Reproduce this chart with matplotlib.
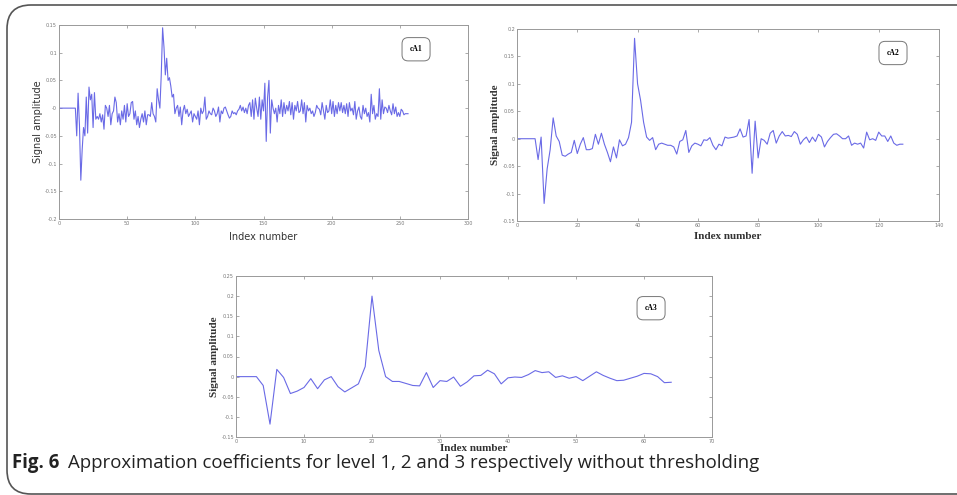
from matplotlib import pyplot as plt
from matplotlib.patches import FancyBboxPatch
from matplotlib.ticker import FormatStrFormatter
import numpy as np

# coeficientes de aproximacion leidos a ojo de la figura
cA1 = [0.0]*13 + [
    -0.05, 0.027, -0.03, -0.13, -0.075, -0.035, -0.05, 0.02, -0.045, 0.038,
    0.015, 0.025, -0.035, 0.028, -0.02, -0.015, -0.02, -0.01, -0.025, -0.012,
    -0.038, 0.005, 0.0, -0.015, 0.005, -0.03, -0.01, -0.005, 0.02, 0.01,
    -0.025, -0.01, -0.03, -0.005, -0.02, 0.005, -0.025, 0.008, -0.015, -0.01,
    0.01, 0.012, -0.02, -0.005, -0.03, -0.015, -0.035, -0.02, -0.01, -0.025,
    -0.005, -0.03, -0.012, -0.012, -0.015, 0.01, -0.01, -0.015, -0.025, 0.035,
    0.015, 0.0, 0.06, 0.145, 0.11, 0.06, 0.09, 0.05, 0.055, 0.04,
    0.02, 0.025, -0.01, 0.0, 0.005, -0.015, 0.002, -0.03, -0.005, 0.005,
    -0.01, -0.002, -0.015, -0.01, -0.005, -0.025, -0.01, -0.015, -0.02, -0.005,
    -0.03, 0.0, -0.01, -0.005, 0.02, -0.02, -0.015, -0.005, -0.01, -0.012,
    0.0, -0.005, -0.015, -0.01, 0.002, -0.025, -0.005, -0.01, 0.0, 0.002,
    -0.005, -0.012, -0.018, -0.015, -0.005, -0.01, -0.008, -0.012, -0.005, -0.002,
    0.005, -0.005, 0.002, -0.008, 0.0, -0.01, 0.005, 0.01, -0.015, 0.015,
    -0.02, 0.018, 0.0, -0.015, 0.02, -0.02, 0.015, -0.005, 0.045, -0.06,
    0.02, 0.05, -0.045, 0.015, 0.0, -0.01, 0.0, -0.025, 0.005, -0.01,
    0.015, -0.015, 0.01, -0.01, 0.005, -0.005, 0.012, -0.012, 0.01, -0.02,
    0.005, -0.005, 0.012, -0.008, -0.005, 0.015, -0.01, 0.01, -0.025, 0.005,
    -0.005, 0.0, -0.01, -0.005, -0.015, -0.008, 0.005, 0.0, -0.002, -0.012,
    0.01, -0.005, -0.02, 0.005, -0.008, -0.005, 0.015, -0.01, 0.012, -0.015,
    0.005, -0.01, 0.01, -0.005, 0.01, -0.008, 0.005, -0.01, 0.008, -0.015,
    0.01, -0.005, 0.0, -0.012, 0.012, -0.02, -0.005, 0.002, -0.015, -0.02,
    0.005, -0.01, 0.0, -0.015, -0.008, -0.025, 0.025, -0.01, 0.005, -0.02,
    -0.01, -0.015, 0.035, -0.02, 0.015, -0.01, 0.002, 0.0, -0.008, 0.005,
    -0.005, -0.012, 0.008, -0.01, 0.002, -0.015, -0.008, -0.015, -0.002, -0.005,
    -0.012, -0.01, -0.01, -0.01]

cA2 = [0.0]*7 + [
    -0.038, 0.003, -0.118, -0.055, -0.02, 0.038, 0.005, -0.005, -0.03, -0.032,
    -0.028, -0.025, -0.003, -0.027, -0.01, 0.002, -0.02, -0.02, -0.018, 0.008,
    -0.01, 0.01, -0.01, -0.025, -0.042, -0.015, -0.035, -0.002, -0.013, -0.01,
    0.002, 0.03, 0.183, 0.1, 0.07, 0.03, 0.003, -0.003, 0.002, -0.02,
    -0.01, -0.008, -0.01, -0.012, -0.012, -0.015, -0.028, -0.005, -0.002, 0.015,
    -0.025, -0.013, -0.008, -0.01, -0.013, -0.002, -0.003, 0.002, -0.012, -0.02,
    -0.01, -0.013, 0.003, 0.001, 0.002, 0.003, 0.005, 0.018, 0.003, 0.005,
    0.035, -0.063, 0.032, -0.035, 0.0, -0.003, -0.01, 0.01, 0.015, -0.008,
    0.005, 0.013, 0.005, 0.006, 0.004, 0.013, 0.008, -0.01, -0.002, 0.003,
    -0.007, 0.003, -0.005, 0.008, 0.003, -0.015, -0.005, 0.002, 0.008, 0.009,
    0.005, 0.0, 0.0, 0.005, -0.012, -0.008, -0.01, -0.008, -0.017, 0.012,
    -0.002, 0.0, -0.003, 0.012, 0.005, 0.005, -0.005, 0.005, -0.008, -0.012,
    -0.01, -0.01]

cA3 = [0.0, 0.0, 0.0, 0.0, -0.022, -0.118, 0.018, -0.002, -0.042, -0.036,
       -0.027, -0.005, -0.03, -0.008, 0.0, -0.025, -0.038, -0.028, -0.018, 0.025,
       0.2, 0.065, 0.0, -0.012, -0.012, -0.017, -0.022, -0.023, 0.01, -0.027,
       -0.01, -0.012, -0.001, -0.024, -0.013, 0.002, 0.003, 0.016, 0.007, -0.018,
       -0.003, -0.001, -0.002, 0.005, 0.015, 0.01, 0.012, -0.002, 0.002, -0.004,
       0.0, -0.01, 0.001, 0.012, 0.003, -0.004, -0.01, -0.009, -0.004, 0.001,
       0.008, 0.007, 0.0, -0.015, -0.014]

nombres = ['cA1', 'cA2', 'cA3']
xlims = [(0, 300), (0, 140), (0, 70)]
xpasos = [50, 20, 10]
ylims = [(-0.2, 0.15), (-0.15, 0.2), (-0.15, 0.25)]

W, H = 957, 495
fig = plt.figure(figsize=(W/100, H/100), dpi=100)

def caja(l, r, t, b):
    return [l/W, 1 - b/H, (r - l)/W, (b - t)/H]

# posiciones en pixeles (izq, der, arriba, abajo)
cajas = [caja(59, 468, 25, 219), caja(517, 939, 29, 221), caja(236, 712, 276, 437)]
leyendas = [(0.873, 0.875), (0.891, 0.875), (0.872, 0.8)]
pads_x = [4, 3, 0]

for k, datos in enumerate([cA1, cA2, cA3]):
    ax = fig.add_axes(cajas[k])
    ax.plot(np.arange(len(datos)), datos, color='#6a6ae6', lw=0.8)
    ax.set_xlim(*xlims[k])
    ax.set_ylim(*ylims[k])
    ax.set_xticks(np.arange(xlims[k][0], xlims[k][1] + 1, xpasos[k]))
    ax.set_yticks(np.round(np.arange(ylims[k][0], ylims[k][1] + 0.001, 0.05), 2))
    ax.yaxis.set_major_formatter(FormatStrFormatter('%g'))
    ax.tick_params(direction='in', top=True, right=True, labelsize=3.5,
                   labelcolor='#777777', color='#888888', length=2.5, width=0.5, pad=1.5)
    for s in ax.spines.values():
        s.set_color('#999999')
        s.set_linewidth(0.7)
    if k == 0:
        ax.set_xlabel('Index number', fontsize=7, color='#333333', labelpad=pads_x[k])
        ax.set_ylabel('Signal amplitude', fontsize=7, color='#333333', labelpad=1)
    else:
        ax.set_xlabel('Index number', fontsize=8, family='Liberation Serif',
                      weight='bold', color='#333333', labelpad=pads_x[k])
        ax.set_ylabel('Signal amplitude', fontsize=8, family='Liberation Serif',
                      weight='bold', color='#333333', labelpad=2)
    ax.text(leyendas[k][0], leyendas[k][1], nombres[k], transform=ax.transAxes,
            ha='center', va='center', fontsize=5.5, family='Liberation Serif', weight='bold',
            bbox=dict(boxstyle='round,pad=1.0,rounding_size=0.8', fc='white',
                      ec='#777777', lw=0.7))

# marco redondeado de la figura
marco = FancyBboxPatch((7/W, 1 - 494/H), 1.2, (494 - 5)/H,
                       boxstyle='round,pad=0,rounding_size=0.025',
                       transform=fig.transFigure, fc='none', ec='#555555', lw=1.2,
                       mutation_aspect=W/H, clip_on=False)
fig.patches.append(marco)

fig.text(12/W, 1 - 463/H, 'Fig. 6', fontsize=13.4, weight='bold', family='Open Sans',
         va='center', color='#222222')
fig.text(68/W, 1 - 463/H, 'Approximation coefficients for level 1, 2 and 3 respectively without thresholding',
         fontsize=13.4, family='Open Sans', va='center', color='#222222')

fig.savefig('out.png', dpi=100)
